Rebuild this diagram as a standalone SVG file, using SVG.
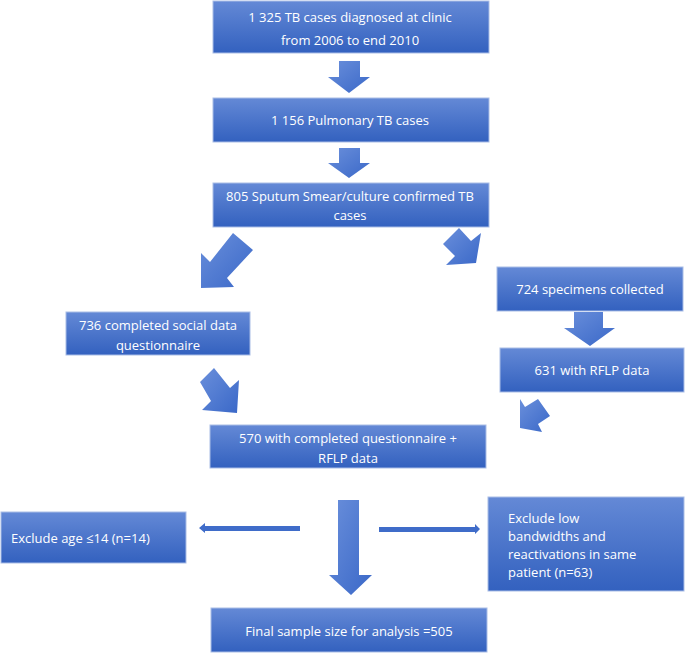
<svg xmlns="http://www.w3.org/2000/svg" width="685" height="653" viewBox="0 0 685 653">
<defs>
<linearGradient id="bg" x1="0" y1="0" x2="0" y2="1">
<stop offset="0" stop-color="#6489d6"/>
<stop offset="1" stop-color="#3361bf"/>
</linearGradient>
<linearGradient id="ag" x1="0" y1="0" x2="1" y2="1">
<stop offset="0" stop-color="#6a8fdb"/>
<stop offset="1" stop-color="#3a68c8"/>
</linearGradient>
<style>
.box{fill:url(#bg);stroke:#a9bde6;stroke-width:1}
.t{font-family:"Open Sans","Liberation Sans",sans-serif;font-size:13px;fill:#ffffff}
.c{text-anchor:middle}
.arr{fill:url(#ag)}
.thin{fill:#3f6cc9}
</style>
</defs>
<g id="connectors">
<polygon class="arr" points="339,61 360,61 360,77 370,77 349,93 328,77 339,77"/>
<polygon class="arr" points="339,148 360,148 360,163 370,163 349,178 328,163 339,163"/>
<polygon class="arr" points="233,233 253,250 227,278 234,287 201,288 201,253 210,262"/>
<polygon class="arr" points="459,228 443,244 455,256 446,265 476,263 481,233 471,241"/>
<polygon class="arr" points="574,312 603,312 603,328 615,328 590,346 564,328 574,328"/>
<polygon class="arr" points="214,368 200,382 211,401 202,410 237,413 239,380 230,388"/>
<polygon class="arr" points="520,399 525,407 538,399 550,416 538,424 542,432 520,428"/>
<polygon class="thin" points="300,526 300,531 205,531 205,533 199,528 205,523 205,526"/>
<polygon class="thin" points="379,527 379,532 475,532 475,534 480,529 475,524 475,527"/>
<polygon class="arr" points="338,500 359,500 359,575 372,575 351,595 329,575 338,575"/>
</g>
<g id="n1"><rect class="box" x="213" y="1" width="276" height="52"/>
<text class="t c" x="350" y="22">1 325 TB cases diagnosed at clinic</text>
<text class="t c" x="350" y="45">from 2006 to end 2010</text></g>
<g id="n2"><rect class="box" x="213" y="98" width="276" height="44"/>
<text class="t c" x="350" y="125">1 156 Pulmonary TB cases</text></g>
<g id="n3"><rect class="box" x="213" y="183" width="276" height="44"/>
<text class="t c" x="350" y="201">805 Sputum Smear/culture confirmed TB</text>
<text class="t c" x="350" y="220">cases</text></g>
<g id="n4"><rect class="box" x="66" y="312" width="184" height="43"/>
<text class="t c" x="158" y="330">736 completed social data</text>
<text class="t c" x="158" y="350">questionnaire</text></g>
<g id="n5"><rect class="box" x="497" y="267" width="186" height="44"/>
<text class="t c" x="590" y="294">724 specimens collected</text></g>
<g id="n6"><rect class="box" x="500" y="348" width="184" height="44"/>
<text class="t c" x="592" y="375">631 with RFLP data</text></g>
<g id="n7"><rect class="box" x="210" y="425" width="276" height="43"/>
<text class="t c" x="348" y="443">570 with completed questionnaire +</text>
<text class="t c" x="348" y="463">RFLP data</text></g>
<g id="n8"><rect class="box" x="1" y="512" width="185" height="51"/>
<text class="t" x="11" y="543">Exclude age ≤14 (n=14)</text></g>
<g id="n9"><rect class="box" x="488" y="497" width="196" height="94"/>
<text class="t" x="508" y="523">Exclude low</text>
<text class="t" x="508" y="541">bandwidths and</text>
<text class="t" x="508" y="559">reactivations in same</text>
<text class="t" x="508" y="577">patient (n=63)</text></g>
<g id="n10"><rect class="box" x="211" y="608" width="276" height="44"/>
<text class="t c" x="349" y="636">Final sample size for analysis =505</text></g>
</svg>
